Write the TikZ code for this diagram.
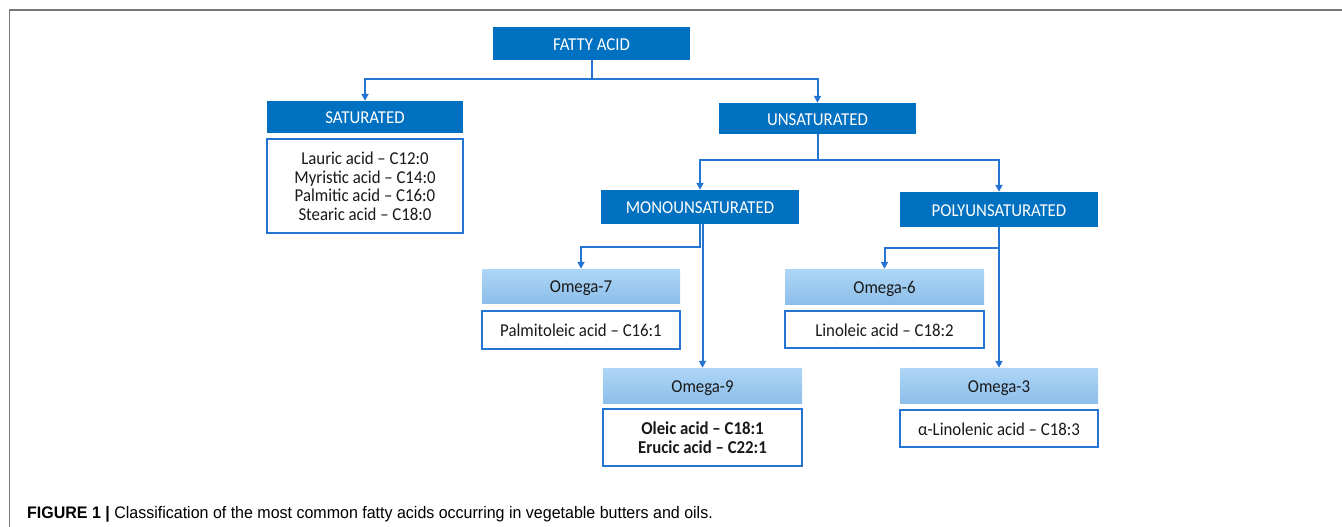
\documentclass[tikz,border=0pt]{standalone}
\usepackage{fontspec}
\usepackage{graphicx}
\setmainfont{Carlito}
\newfontfamily\capfont{Liberation Sans}
\usetikzlibrary{arrows.meta}
\definecolor{darkbox}{RGB}{0,112,192}
\definecolor{lineblue}{RGB}{36,116,212}
\definecolor{lighttop}{RGB}{174,214,246}
\definecolor{lightbot}{RGB}{140,190,234}
\definecolor{framegray}{RGB}{120,120,120}
\definecolor{txt}{RGB}{25,25,25}
\newcommand{\tallt}[1]{\raisebox{-7.5pt}[0pt][0pt]{\scalebox{1}[1.08]{\begin{tabular}{@{}c@{}}#1\end{tabular}}}}
\tikzset{
  darkstyle/.style={fill=darkbox, text=white, inner sep=0pt, font=\fontsize{16.8}{17}\selectfont},
  lightstyle/.style={top color=lighttop, bottom color=lightbot, text=txt, inner sep=0pt, font=\fontsize{16.8}{17}\selectfont},
  liststyle/.style={draw=lineblue, line width=2pt, fill=white, text=txt, inner sep=0pt, font=\fontsize{16.8}{17}\selectfont},
  conn/.style={draw=lineblue, line width=2pt, -{Triangle[length=7pt,width=7pt]}}
}
\begin{document}
\begin{tikzpicture}[x=1pt,y=-1pt]
\useasboundingbox (0,0) rectangle (1342,527);
% frame
\draw[framegray, line width=2pt] (1342,10) -- (9,10);
\draw[framegray, line width=1pt] (9,10) -- (9,527);
% boxes
\node[darkstyle, minimum width=197pt, minimum height=33pt] (fa) at (591.5,43.5) {\tallt{FATTY ACID}};
\node[darkstyle, minimum width=196pt, minimum height=32pt] (sat) at (365,117) {\tallt{SATURATED}};
\node[liststyle, minimum width=196pt, minimum height=94pt] (satl) at (365,186) {\tallt{Lauric acid -- C12:0\\Myristic acid -- C14:0\\Palmitic acid -- C16:0\\Stearic acid -- C18:0}};
\node[darkstyle, minimum width=197pt, minimum height=31pt] (uns) at (817.5,118.5) {\tallt{UNSATURATED}};
\node[darkstyle, minimum width=198pt, minimum height=34pt] (mono) at (700,207) {\tallt{MONOUNSATURATED}};
\node[darkstyle, minimum width=198pt, minimum height=35pt] (poly) at (999,209.5) {\tallt{POLYUNSATURATED}};
\node[lightstyle, minimum width=198pt, minimum height=34pt] (o7) at (581,286) {\tallt{Omega-7}};
\node[liststyle, minimum width=198pt, minimum height=38pt] (o7l) at (581,330) {\tallt{Palmitoleic acid -- C16:1}};
\node[lightstyle, minimum width=199pt, minimum height=35pt] (o9) at (702.5,385.5) {\tallt{Omega-9}};
\node[liststyle, minimum width=199pt, minimum height=57pt, font=\fontsize{16.8}{17.6}\selectfont\bfseries] (o9l) at (702.5,437.5) {\tallt{Oleic acid -- C18:1\\Erucic acid -- C22:1}};
\node[lightstyle, minimum width=199pt, minimum height=35pt] (o6) at (884.5,286.5) {\tallt{Omega-6}};
\node[liststyle, minimum width=199pt, minimum height=37pt] (o6l) at (884.5,329.5) {\tallt{Linoleic acid -- C18:2}};
\node[lightstyle, minimum width=198pt, minimum height=35pt] (o3) at (999,385.5) {\tallt{Omega-3}};
\node[liststyle, minimum width=198pt, minimum height=37pt] (o3l) at (999,428.5) {\tallt{α-Linolenic acid -- C18:3}};
% connectors
\draw[conn] (fa.south) -- ++(0,19) -| (sat.north);
\draw[conn] (fa.south) -- ++(0,19) -| (uns.north);
\draw[conn] (uns.south) -- ++(0,26) -| (mono.north);
\draw[conn] (uns.south) -- ++(0,26) -| (poly.north);
\draw[conn] (mono.south) -- ++(0,23) -| (o7.north);
\draw[conn] (o9.north |- mono.south) -- (o9.north);
\draw[conn] (poly.south) -- ++(0,21) -| (o6.north);
\draw[conn] (poly.south) -- (o3.north);
% caption
\node[anchor=base west, inner sep=0pt, text=black, font=\capfont\fontsize{16.7}{18}\selectfont] (cap) at (27,518) {\scalebox{0.958}[1]{\textbf{FIGURE 1 |} Classification of the most common fatty acids occurring in vegetable butters and oils.}};
\end{tikzpicture}
\end{document}
